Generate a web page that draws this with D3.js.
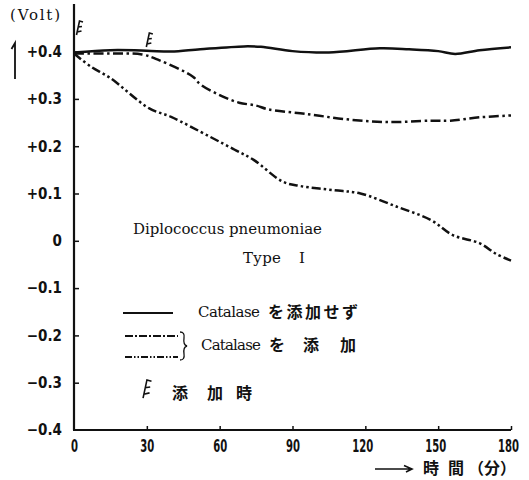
<!DOCTYPE html>
<html><head><meta charset="utf-8">
<script src="https://cdn.jsdelivr.net/npm/d3@7"></script>
<style>
body{margin:0;background:#fff;}
svg{display:block;}
.tick text{font-family:"Liberation Sans Narrow","DejaVu Sans Condensed","Liberation Sans",sans-serif;font-weight:bold;fill:#111;}
</style></head>
<body>
<script>
// ---- data ----
const xTicks = [0, 30, 60, 90, 120, 150, 180];
const yTicks = [-0.4, -0.3, -0.2, -0.1, 0, 0.1, 0.2, 0.3, 0.4];
const yTickLabels = ["−0.4", "−0.3", "−0.2", "−0.1", "0", "+0.1", "+0.2", "+0.3", "+0.4"];
// Catalase を添加せず (solid)
const noCatT = [0, 15, 30, 40, 52, 70, 77, 90, 105, 126, 138, 150, 157, 167, 180];
const noCatV = [0.398, 0.403, 0.402, 0.400, 0.405, 0.411, 0.410, 0.401, 0.398, 0.407, 0.405, 0.401, 0.395, 0.403, 0.409];
// Catalase 添加 at 30 min (dash-dot)
const cat30T = [0, 15, 28, 35, 49, 52, 60, 68, 75, 80, 96, 112, 129, 147, 155, 167, 180];
const cat30V = [0.396, 0.396, 0.394, 0.382, 0.347, 0.331, 0.308, 0.292, 0.286, 0.278, 0.268, 0.257, 0.251, 0.254, 0.254, 0.261, 0.265];
// Catalase 添加 at 0 min (dash-dot-dot)
const cat0T = [0, 7, 15, 31, 40, 56, 66, 74, 86, 93, 107, 118, 133, 147, 156, 167, 174, 180];
const cat0V = [0.396, 0.368, 0.344, 0.280, 0.262, 0.220, 0.193, 0.171, 0.125, 0.116, 0.107, 0.100, 0.072, 0.044, 0.012, -0.005, -0.028, -0.042];
// addition times (markers)
const addTimes = [0, 30];

const W = 529, H = 480;
const svg = d3.select("body").append("svg").attr("width", W).attr("height", H);
const x = d3.scaleLinear().domain([0, 180]).range([74, 511]);
const y = d3.scaleLinear().domain([-0.4, 0.4]).range([430, 51.6]);

// y axis
const yAxis = d3.axisLeft(y).tickValues(yTicks)
  .tickFormat((d, i) => yTickLabels[i])
  .tickSizeInner(-5).tickSizeOuter(0).tickPadding(12);
const gy = svg.append("g").attr("transform", `translate(${x(0)},0)`).call(yAxis);
gy.select(".domain").remove();
gy.selectAll(".tick line").attr("stroke", "#111").attr("stroke-width", 1.5);
gy.selectAll(".tick text").attr("font-size", 15);
gy.selectAll(".tick").filter(d => d === -0.4).select("line").remove();
svg.append("line").attr("x1", x(0)).attr("x2", x(0)).attr("y1", 4).attr("y2", y(-0.4))
  .attr("stroke", "#111").attr("stroke-width", 2.2);

// x axis
const xAxis = d3.axisBottom(x).tickValues(xTicks).tickFormat(d3.format("d"))
  .tickSizeInner(-4).tickSizeOuter(0).tickPadding(10);
const gx = svg.append("g").attr("transform", `translate(0,${y(-0.4)})`).call(xAxis);
gx.select(".domain").remove();
gx.selectAll(".tick line").attr("stroke", "#111").attr("stroke-width", 1.5);
gx.selectAll(".tick").filter(d => d === 0).select("line").remove();
gx.selectAll(".tick text").attr("font-size", 17).attr("dx", d => d >= 120 ? -3 : 0)
  .attr("textLength", d => String(d).length * 7).attr("lengthAdjust", "spacingAndGlyphs");
svg.append("line").attr("x1", x(0) - 1).attr("x2", x(180)).attr("y1", y(-0.4)).attr("y2", y(-0.4))
  .attr("stroke", "#111").attr("stroke-width", 2.2);

// lines
const line = d3.line().x(d => x(d[0])).y(d => y(d[1])).curve(d3.curveCatmullRom.alpha(0.5));
function series(ts, vs) { return ts.map((t, i) => [t, vs[i]]); }
svg.append("path").datum(series(noCatT, noCatV)).attr("d", line)
  .attr("fill", "none").attr("stroke", "#111").attr("stroke-width", 2.5);
svg.append("path").datum(series(cat30T, cat30V)).attr("d", line)
  .attr("fill", "none").attr("stroke", "#111").attr("stroke-width", 2.5)
  .attr("stroke-dasharray", "10 3.5 2.5 3.5");
svg.append("path").datum(series(cat0T, cat0V)).attr("d", line)
  .attr("fill", "none").attr("stroke", "#111").attr("stroke-width", 2.5)
  .attr("stroke-dasharray", "9 3 2.5 3 2.5 3");

// addition markers
function marker(g, cx, cy, s) {
  const p = `M${cx - 1.5 * s},${cy + 7 * s} L${cx + 1.5 * s},${cy - 7 * s} L${cx + 5 * s},${cy - 6 * s}
    M${cx},${cy - 1 * s} L${cx + 4 * s},${cy - 1.5 * s}
    M${cx - 1 * s},${cy + 4 * s} L${cx + 3.5 * s},${cy + 3 * s}`;
  g.append("path").attr("d", p).attr("fill", "none").attr("stroke", "#111").attr("stroke-width", 1.6);
}
marker(svg, x(addTimes[0]) + 4, 28, 1);
marker(svg, x(addTimes[1]) + 1, 40, 1);

const serif = "DejaVu Serif, serif", jp = "Noto Sans CJK JP";
function txt(s, x0, y0, opts) {
  const t = svg.append("text").attr("x", x0).attr("y", y0).attr("fill", "#111")
    .attr("font-family", opts.jp ? jp : serif).attr("font-size", opts.size || 16).text(s);
  if (opts.jp) t.attr("font-weight", "bold");
  if (opts.len) t.attr("textLength", opts.len).attr("lengthAdjust", "spacing");
  return t;
}

// axis titles
txt("(Volt)", 10, 20, {size: 15, len: 50});
svg.append("path").attr("d", "M15,79 L15,43 L11.5,49").attr("fill", "none").attr("stroke", "#111").attr("stroke-width", 1.8);

svg.append("path").attr("d", "M375,469 L412,469 M404,465.5 L412,469 L406,472").attr("fill", "none")
  .attr("stroke", "#111").attr("stroke-width", 1.6);
txt("時", 423, 474, {jp: true, size: 16});
txt("間", 448, 474, {jp: true, size: 16});
txt("（分）", 468, 474, {jp: true, size: 16});

// annotation
txt("Diplococcus pneumoniae", 133, 234, {size: 15, len: 189});
txt("Type", 243, 263, {size: 15, len: 38});
txt("I", 299, 263, {size: 15});

// legend
svg.append("line").attr("x1", 123).attr("x2", 173).attr("y1", 313).attr("y2", 313)
  .attr("stroke", "#111").attr("stroke-width", 1.8);
txt("Catalase", 198, 317, {size: 15, len: 62});
txt("を添加せず", 268, 318, {jp: true, size: 16, len: 90});

svg.append("line").attr("x1", 125).attr("x2", 178).attr("y1", 336).attr("y2", 336)
  .attr("stroke", "#111").attr("stroke-width", 1.8).attr("stroke-dasharray", "8 2 2 2");
svg.append("line").attr("x1", 125).attr("x2", 178).attr("y1", 357).attr("y2", 357)
  .attr("stroke", "#111").attr("stroke-width", 1.8).attr("stroke-dasharray", "7 2 1.5 2 1.5 2");
svg.append("path").attr("d", "M180,332 Q185,332 184,338 Q183,345 187,346 Q183,347 184,354 Q185,360 180,360")
  .attr("fill", "none").attr("stroke", "#111").attr("stroke-width", 1.3);
txt("Catalase", 201, 350, {size: 15, len: 60});
txt("を", 269, 351, {jp: true, size: 16});
txt("添", 303, 351, {jp: true, size: 16});
txt("加", 340, 351, {jp: true, size: 16});

marker(svg, 145, 389, 1.3);
txt("添", 172, 399, {jp: true, size: 16});
txt("加", 207, 399, {jp: true, size: 16});
txt("時", 236, 399, {jp: true, size: 16});
</script>
</body></html>
